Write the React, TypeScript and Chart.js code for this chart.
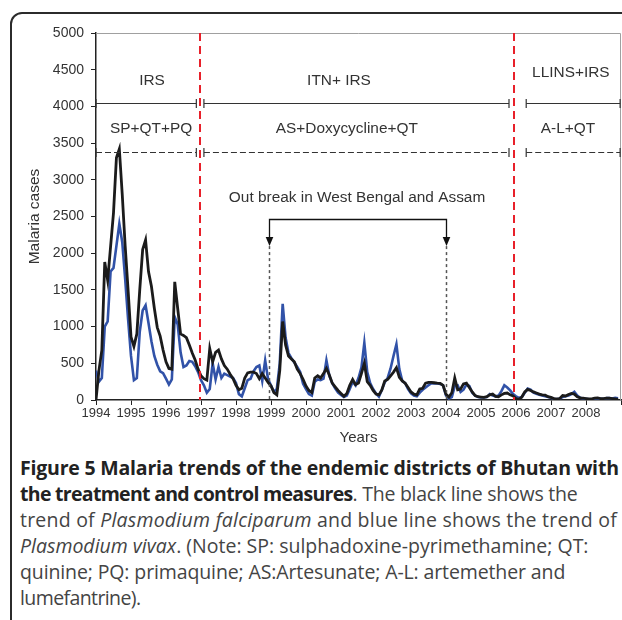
import React, { useEffect, useRef } from 'react';
import { Chart, registerables } from 'chart.js';

Chart.register(...registerables);

// Monthly malaria cases, Jan 1994 – Dec 2008 (one row per year)
const falciparum = [
  0, 400, 680, 1880, 1630, 2090, 2550, 3300, 3420, 2800, 2100, 1500,
  860, 730, 900, 1500, 2050, 2180, 1750, 1550, 1250, 990, 870, 680,
  520, 430, 420, 1610, 1250, 900, 880, 850, 750, 640, 545, 420,
  330, 290, 270, 700, 520, 650, 680, 560, 470, 420, 350, 290,
  200, 140, 160, 300, 370, 380, 380, 360, 290, 360, 300, 240,
  190, 100, 70, 400, 1070, 750, 600, 560, 520, 420, 360, 280,
  190, 130, 100, 300, 330, 300, 360, 430, 340, 230, 180, 130,
  90, 50, 90, 200, 280, 210, 230, 360, 500, 250, 200, 130,
  80, 70, 136, 260, 280, 330, 380, 440, 310, 260, 230, 170,
  110, 80, 70, 150, 160, 230, 240, 240, 235, 230, 228, 200,
  80, 40, 100, 300, 140, 150, 220, 230, 170, 110, 60, 45,
  40, 35, 45, 70, 80, 50, 45, 70, 90, 95, 70, 55,
  20, 10, 40, 110, 145, 130, 110, 95, 80, 70, 65, 45,
  35, 20, 15, 20, 60, 55, 75, 90, 80, 45, 30, 25,
  20, 15, 15, 25, 30, 20, 20, 25, 25, 20, 15, 10,
];

const vivax = [
  400, 250, 300, 1000, 1070, 1750, 1800, 2100, 2400, 2150, 1650, 1100,
  600, 270, 300, 930, 1220, 1290, 1050, 800, 600, 480, 390, 365,
  290, 210, 280, 1130, 1030, 650, 450, 470, 530, 520, 460, 380,
  270, 200, 100, 150, 500, 280, 450, 300, 360, 340, 320, 300,
  230, 80, 50, 160, 270, 290, 390, 450, 470, 260, 540, 280,
  200, 110, 150, 500, 1310, 850, 640, 570, 510, 450, 380, 220,
  150, 80, 60, 250, 280, 270, 290, 540, 330, 230, 160, 100,
  70, 40, 60, 150, 250, 200, 300, 440, 780, 380, 230, 150,
  90, 45, 136, 240, 300, 430, 600, 760, 420, 260, 230, 150,
  90, 60, 50, 100, 140, 170, 200, 230, 225, 225, 220, 200,
  60, 20, 40, 190, 200, 110, 140, 210, 190, 100, 60, 40,
  35, 35, 40, 80, 60, 50, 60, 120, 200, 170, 130, 80,
  50, 30, 40, 100, 155, 140, 100, 85, 70, 60, 50, 40,
  30, 15, 10, 20, 40, 50, 60, 80, 110, 60, 30, 20,
  15, 10, 10, 15, 20, 15, 15, 25, 25, 20, 30, 25,
];

const yearLabels = ['1994', '1995', '1996', '1997', '1998', '1999', '2000', '2001',
  '2002', '2003', '2004', '2005', '2006', '2007', '2008'];

// Policy periods (month index from Jan 1994)
const periodSpans = [[0, 34.4], [37.0, 141.6], [147.5, 179.7]];
const controlLabels = ['IRS', 'ITN+ IRS', 'LLINS+IRS'];
const controlLabelPos = [[19.2, 4345], [83.3, 4345], [162.8, 4454]];
const treatmentLabels = ['SP+QT+PQ', 'AS+Doxycycline+QT', 'A-L+QT'];
const treatmentLabelPos = [[18.9, 3691], [86, 3691], [161.8, 3691]];
const controlLineValue = 4053;
const treatmentLineValue = 3378;
const policyChanges = [35.7, 143.3];
const outbreakMonths = [59.3, 119.9];
const outbreakText = 'Out break in West Bengal and Assam';
const outbreakTextPos = [89.5, 2751];
const outbreakArrowValue = 2461;
const outbreakTipValue = 2097;

const annotations = {
  id: 'annotations',
  afterDatasetsDraw(chart: any) {
    const { ctx, chartArea: a, scales } = chart;
    const x = scales.x, y = scales.y;
    ctx.save();
    // plot area border (top / right)
    ctx.strokeStyle = '#a0a0a0';
    ctx.lineWidth = 1;
    ctx.beginPath();
    ctx.moveTo(a.left, a.top + 0.5);
    ctx.lineTo(a.right - 0.5, a.top + 0.5);
    ctx.lineTo(a.right - 0.5, a.bottom);
    ctx.stroke();

    // period lines
    ctx.strokeStyle = '#333';
    ctx.lineWidth = 1.2;
    const rows = [[controlLineValue, []], [treatmentLineValue, [6, 3]]] as any[];
    rows.forEach(([val, dash]) => {
      const py = Math.round(y.getPixelForValue(val)) + 0.5;
      periodSpans.forEach(([s, e]) => {
        const x1 = x.getPixelForValue(s), x2 = x.getPixelForValue(e);
        ctx.setLineDash(dash);
        ctx.beginPath();
        ctx.moveTo(x1, py); ctx.lineTo(x2, py);
        ctx.stroke();
        ctx.setLineDash([]);
        ctx.beginPath();
        ctx.moveTo(x1, py - 4.5); ctx.lineTo(x1, py + 4.5);
        ctx.moveTo(x2, py - 4.5); ctx.lineTo(x2, py + 4.5);
        ctx.stroke();
      });
    });

    ctx.fillStyle = '#333';
    ctx.font = '15.4px "Liberation Sans", Arial, sans-serif';
    ctx.textAlign = 'center';
    ctx.textBaseline = 'middle';
    controlLabels.forEach((t, i) => {
      ctx.fillText(t, x.getPixelForValue(controlLabelPos[i][0]), y.getPixelForValue(controlLabelPos[i][1]));
    });
    treatmentLabels.forEach((t, i) => {
      ctx.fillText(t, x.getPixelForValue(treatmentLabelPos[i][0]), y.getPixelForValue(treatmentLabelPos[i][1]));
    });
    ctx.fillText(outbreakText, x.getPixelForValue(outbreakTextPos[0]), y.getPixelForValue(outbreakTextPos[1]));

    // outbreak markers
    const ay = Math.round(y.getPixelForValue(outbreakArrowValue)) + 0.5;
    const tip = y.getPixelForValue(outbreakTipValue);
    const xs = outbreakMonths.map((m) => Math.round(x.getPixelForValue(m)) + 0.5);
    ctx.strokeStyle = '#555';
    ctx.lineWidth = 1.5;
    ctx.setLineDash([3, 3]);
    xs.forEach((px) => {
      ctx.beginPath();
      ctx.moveTo(px, tip);
      ctx.lineTo(px, a.bottom);
      ctx.stroke();
    });
    ctx.setLineDash([]);
    ctx.strokeStyle = '#111';
    ctx.lineWidth = 1.3;
    ctx.beginPath();
    ctx.moveTo(xs[0], tip - 8);
    ctx.lineTo(xs[0], ay);
    ctx.lineTo(xs[1], ay);
    ctx.lineTo(xs[1], tip - 8);
    ctx.stroke();
    ctx.fillStyle = '#111';
    xs.forEach((px) => {
      ctx.beginPath();
      ctx.moveTo(px - 3.8, tip - 9);
      ctx.lineTo(px + 3.8, tip - 9);
      ctx.lineTo(px, tip);
      ctx.closePath();
      ctx.fill();
    });

    // policy change lines
    ctx.strokeStyle = '#e8202a';
    ctx.lineWidth = 2;
    ctx.setLineDash([8, 5]);
    policyChanges.forEach((m) => {
      const px = Math.round(x.getPixelForValue(m));
      ctx.beginPath();
      ctx.moveTo(px, a.top);
      ctx.lineTo(px, a.bottom);
      ctx.stroke();
    });
    ctx.restore();
  },
};

export default function App() {
  const ref = useRef<HTMLCanvasElement>(null);
  useEffect(() => {
    if (!ref.current) return;
    const chart = new Chart(ref.current, {
      type: 'line',
      data: {
        datasets: [
          {
            label: 'Plasmodium falciparum',
            data: falciparum.map((v, i) => ({ x: i, y: v })),
            borderColor: '#1b1b1b',
            borderWidth: 2.8,
            pointRadius: 0,
            tension: 0,
            fill: false,
          },
          {
            label: 'Plasmodium vivax',
            data: vivax.map((v, i) => ({ x: i, y: v })),
            borderColor: '#3152a8',
            borderWidth: 2.6,
            pointRadius: 0,
            tension: 0,
            fill: false,
          },
        ],
      },
      options: {
        animation: false,
        responsive: false,
        devicePixelRatio: 1,
        layout: { padding: { top: 33, right: 1, left: 0, bottom: 0 } },
        plugins: { legend: { display: false }, tooltip: { enabled: false } },
        scales: {
          x: {
            type: 'linear',
            min: 0,
            max: 180,
            afterFit: (s: any) => { s.height = 50; },
            afterBuildTicks: (s: any) => {
              s.ticks = Array.from({ length: 16 }, (_, i) => ({ value: i * 12 }));
            },
            ticks: {
              autoSkip: false,
              maxRotation: 0,
              padding: 1,
              color: '#333',
              font: { family: '"Liberation Sans", Arial, sans-serif', size: 13 },
              callback: (v: any) => yearLabels[Math.round(Number(v) / 12)] ?? '',
            },
            grid: { drawOnChartArea: false, drawTicks: true, tickLength: 5, color: '#222', lineWidth: 1 },
            border: { display: true, color: '#222', width: 1.5 },
            title: {
              display: true,
              text: 'Years',
              color: '#333',
              font: { family: '"Liberation Sans", Arial, sans-serif', size: 15 },
              padding: { top: 0, bottom: 3 },
            },
          },
          y: {
            min: 0,
            max: 5000,
            afterFit: (s: any) => { s.width = 96; },
            ticks: {
              stepSize: 500,
              padding: 7,
              color: '#333',
              font: { family: '"Liberation Sans", Arial, sans-serif', size: 14 },
              callback: (v: any) => String(v),
            },
            grid: { drawOnChartArea: false, drawTicks: true, tickLength: 5, color: '#222', lineWidth: 1 },
            border: { display: true, color: '#222', width: 1.5 },
            title: {
              display: true,
              text: 'Malaria cases',
              color: '#333',
              font: { family: '"Liberation Sans", Arial, sans-serif', size: 15.5 },
              padding: { top: 25, bottom: 0 },
            },
          },
        },
      },
      plugins: [annotations],
    });
    return () => chart.destroy();
  }, []);

  const bold = { color: '#222', fontWeight: 700 } as const;

  return (
    <div style={{ position: 'absolute', left: 0, top: 0, width: 622, height: 620, overflow: 'hidden', background: '#fff' }}>
      <div
        style={{
          position: 'absolute', left: 10, top: 12, width: 800, height: 800,
          border: '2px solid #2b2b2b', borderTopLeftRadius: 12, boxSizing: 'border-box',
        }}
      />
      <canvas ref={ref} width={622} height={450} style={{ position: 'absolute', left: 0, top: 0, width: 622, height: 450 }} />
      <div
        style={{
          position: 'absolute', left: 20, top: 455, fontFamily: '"Open Sans", sans-serif', fontSize: 19.5,
          lineHeight: '26px', color: '#444', whiteSpace: 'nowrap',
        }}
      >
        <div><span style={{ ...bold, letterSpacing: '-0.2px' }}>Figure 5 Malaria trends of the endemic districts of Bhutan with</span></div>
        <div style={{ letterSpacing: '-0.25px' }}><span style={{ ...bold, letterSpacing: '-0.7px' }}>the treatment and control measures</span>. The black line shows the</div>
        <div style={{ letterSpacing: '0.22px' }}>trend of <i>Plasmodium falciparum</i> and blue line shows the trend of</div>
        <div style={{ letterSpacing: '0px' }}><i>Plasmodium vivax</i>. (Note: SP: sulphadoxine-pyrimethamine; QT:</div>
        <div style={{ letterSpacing: '-0.12px' }}>quinine; PQ: primaquine; AS:Artesunate; A-L: artemether and</div>
        <div style={{ letterSpacing: '-0.6px' }}>lumefantrine).</div>
      </div>
    </div>
  );
}
